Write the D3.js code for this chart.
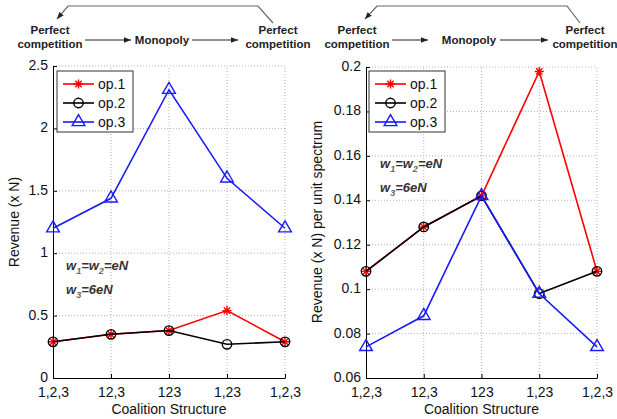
<!DOCTYPE html>
<html>
<head>
<meta charset="utf-8">
<script src="https://cdn.jsdelivr.net/npm/d3@7"></script>
<style>
  html, body { margin: 0; padding: 0; background: #fff; }
  svg { display: block; font-family: "Liberation Sans", Arial, Helvetica, sans-serif; }
</style>
</head>
<body>
<svg id="chart" width="617" height="419"></svg>
<script>
// Coalition structures along the x axis
const categories = ["1,2,3", "12,3", "123", "1,23", "1,2,3"];
const seriesNames = ["op.1", "op.2", "op.3"];
const seriesColors = ["#ff0000", "#000000", "#1a1aff"];
const seriesMarkers = ["star", "circle", "triangle"];

// Panel A: total revenue (x N)
const revenueOp1 = [0.29, 0.35, 0.38, 0.54, 0.29];
const revenueOp2 = [0.29, 0.35, 0.38, 0.27, 0.29];
const revenueOp3 = [1.20, 1.44, 2.31, 1.60, 1.20];
const revenueTicks = [0, 0.5, 1, 1.5, 2, 2.5];

// Panel B: revenue (x N) per unit spectrum
const perUnitOp1 = [0.108, 0.128, 0.142, 0.198, 0.108];
const perUnitOp2 = [0.108, 0.128, 0.142, 0.098, 0.108];
const perUnitOp3 = [0.074, 0.088, 0.142, 0.098, 0.074];
const perUnitTicks = [0.06, 0.08, 0.1, 0.12, 0.14, 0.16, 0.18, 0.2];

const svg = d3.select("#chart");

// Arrow head marker for the market-structure diagrams
const defs = svg.append("defs");
defs.append("marker")
  .attr("id", "arrowhead")
  .attr("viewBox", "0 0 10 10")
  .attr("refX", 10).attr("refY", 5)
  .attr("markerWidth", 7).attr("markerHeight", 7)
  .attr("markerUnits", "userSpaceOnUse")
  .attr("orient", "auto")
  .append("path").attr("d", "M0,1 L10,5 L0,9 Z").attr("fill", "#222");

function starPath(r) {
  const p = d3.path();
  const d = r * Math.SQRT1_2;
  p.moveTo(-r, 0); p.lineTo(r, 0);
  p.moveTo(0, -r); p.lineTo(0, r);
  p.moveTo(-d, -d); p.lineTo(d, d);
  p.moveTo(-d, d); p.lineTo(d, -d);
  return p.toString();
}

function markerPath(kind) {
  if (kind === "star") return starPath(4.5);
  if (kind === "circle") return d3.symbol(d3.symbolCircle, 70)();
  return d3.symbol(d3.symbolTriangle, 70)();
}

function drawDiagram(cfg) {
  const g = svg.append("g").attr("class", "diagram");
  const txt = (x, y, s, anchor) => g.append("text")
    .attr("x", x).attr("y", y).attr("text-anchor", anchor || "middle")
    .attr("font-size", 11.5).attr("font-weight", "bold").attr("fill", "#222")
    .text(s);
  txt(cfg.leftX, 34, "Perfect");
  txt(cfg.leftX, 48, "competition");
  txt(cfg.monoX, 44, "Monopoly");
  txt(cfg.rightX, 34, "Perfect");
  txt(cfg.rightX, 48, "competition");
  const line = (x1, x2) => g.append("line")
    .attr("x1", x1).attr("x2", x2).attr("y1", 40).attr("y2", 40)
    .attr("stroke", "#222").attr("stroke-width", 1)
    .attr("marker-end", "url(#arrowhead)");
  line(cfg.a1[0], cfg.a1[1]);
  line(cfg.a2[0], cfg.a2[1]);
  g.append("path")
    .attr("d", `M${cfg.loop[0]},23 L${cfg.loop[1]},6 L${cfg.loop[2]},6 L${cfg.loop[3]},19`)
    .attr("fill", "none").attr("stroke", "#666").attr("stroke-width", 1.2)
    .attr("marker-end", "url(#arrowhead)");
}

function drawPanel(cfg) {
  const g = svg.append("g");
  const x = d3.scaleLinear().domain([0, categories.length - 1]).range(cfg.xRange);
  const y = d3.scaleLinear().domain(cfg.yDomain).range(cfg.yRange);

  // dotted grid
  const grid = g.append("g").attr("stroke", "#b0b0b0").attr("stroke-width", 1)
    .attr("stroke-dasharray", "1,2");
  grid.selectAll("line.gx").data(d3.range(1, categories.length)).join("line")
    .attr("x1", d => x(d)).attr("x2", d => x(d))
    .attr("y1", cfg.yRange[0]).attr("y2", cfg.yRange[1]);
  grid.selectAll("line.gy").data(cfg.ticks.slice(1)).join("line")
    .attr("x1", cfg.xRange[0]).attr("x2", cfg.xRange[1])
    .attr("y1", d => y(d)).attr("y2", d => y(d));

  // axes
  const xAxis = d3.axisBottom(x).tickValues(d3.range(categories.length))
    .tickFormat(i => categories[i]).tickSizeInner(-4).tickSizeOuter(0).tickPadding(9.3);
  const yAxis = d3.axisLeft(y).tickValues(cfg.ticks)
    .tickFormat(d3.format("~g")).tickSizeInner(-4).tickSizeOuter(0).tickPadding(5);
  const gx = g.append("g").attr("transform", `translate(0,${cfg.yRange[0]})`).call(xAxis);
  const gy = g.append("g").attr("transform", `translate(${cfg.xRange[0]},0)`).call(yAxis);
  [gx, gy].forEach(a => {
    a.selectAll("path, line").attr("stroke", "#000").attr("stroke-width", 1);
    a.selectAll("text").attr("font-size", 14).attr("fill", "#111")
      .attr("font-family", "'Liberation Sans', Arial, sans-serif");
  });
  gy.selectAll("text").attr("dy", "0.25em");

  // axis titles
  g.append("text")
    .attr("x", (cfg.xRange[0] + cfg.xRange[1]) / 2).attr("y", 413.5)
    .attr("text-anchor", "middle").attr("font-size", 14).attr("fill", "#111")
    .text("Coalition Structure");
  g.append("text")
    .attr("transform", `translate(${cfg.yLabelX},${cfg.yLabelY}) rotate(-90)`)
    .attr("text-anchor", "middle").attr("font-size", 14).attr("fill", "#111")
    .text(cfg.yLabel);

  // series lines then markers, in order op.1, op.2, op.3
  const line = d3.line().x((d, i) => x(i)).y(d => y(d));
  cfg.series.forEach((vals, s) => {
    g.append("path").datum(vals).attr("d", line)
      .attr("fill", "none").attr("stroke", seriesColors[s]).attr("stroke-width", 1.6);
    g.append("g").selectAll("path").data(vals).join("path")
      .attr("transform", (d, i) => `translate(${x(i)},${y(d)})`)
      .attr("d", markerPath(seriesMarkers[s]))
      .attr("fill", "none").attr("stroke", seriesColors[s]).attr("stroke-width", 1.4);
  });

  // legend
  const lg = g.append("g").attr("transform", `translate(${cfg.legend[0]},${cfg.legend[1]})`);
  lg.append("rect").attr("x", 0).attr("y", 0).attr("width", cfg.legend[2]).attr("height", 61)
    .attr("fill", "#fff").attr("stroke", "#333").attr("stroke-width", 1);
  seriesNames.forEach((name, s) => {
    const cy = 13 + s * 19;
    lg.append("line").attr("x1", 6).attr("x2", 37).attr("y1", cy).attr("y2", cy)
      .attr("stroke", seriesColors[s]).attr("stroke-width", 1.6);
    lg.append("path").attr("transform", `translate(21.5,${cy})`)
      .attr("d", markerPath(seriesMarkers[s]))
      .attr("fill", "none").attr("stroke", seriesColors[s]).attr("stroke-width", 1.4);
    lg.append("text").attr("x", 41).attr("y", cy + 5).attr("font-size", 14)
      .attr("fill", "#111").text(name);
  });

  // weight annotation
  const note = g.append("g").attr("font-size", 13).attr("font-weight", "bold")
    .attr("font-style", "italic").attr("fill", "#333");
  const t1 = note.append("text").attr("x", cfg.note[0]).attr("y", cfg.note[1]);
  t1.append("tspan").text("w");
  t1.append("tspan").attr("font-size", 9).attr("dy", 4).attr("fill", "#666").text("1");
  t1.append("tspan").attr("dy", -4).text("=w");
  t1.append("tspan").attr("font-size", 9).attr("dy", 4).attr("fill", "#666").text("2");
  t1.append("tspan").attr("dy", -4).text("=eN");
  const t2 = note.append("text").attr("x", cfg.note[0]).attr("y", cfg.note[1] + 24);
  t2.append("tspan").text("w");
  t2.append("tspan").attr("font-size", 9).attr("dy", 4).attr("fill", "#666").text("3");
  t2.append("tspan").attr("dy", -4).text("=6eN");
}

drawDiagram({ leftX: 50, monoX: 162, rightX: 278, a1: [85, 131], a2: [192, 238], loop: [273, 258, 68, 57] });
drawDiagram({ leftX: 357, monoX: 469, rightX: 585, a1: [392, 428], a2: [500, 548], loop: [580, 567, 377, 365] });

drawPanel({
  xRange: [53, 285], yRange: [378, 66], yDomain: [0, 2.5], ticks: revenueTicks,
  series: [revenueOp1, revenueOp2, revenueOp3],
  yLabel: "Revenue (x N)", yLabelX: 19, yLabelY: 222,
  legend: [57, 71, 76], note: [66, 270]
});
drawPanel({
  xRange: [366, 597], yRange: [378, 67], yDomain: [0.06, 0.2], ticks: perUnitTicks,
  series: [perUnitOp1, perUnitOp2, perUnitOp3],
  yLabel: "Revenue (x N) per unit spectrum", yLabelX: 322, yLabelY: 222,
  legend: [369, 71, 76], note: [380, 168]
});
</script>
</body>
</html>
